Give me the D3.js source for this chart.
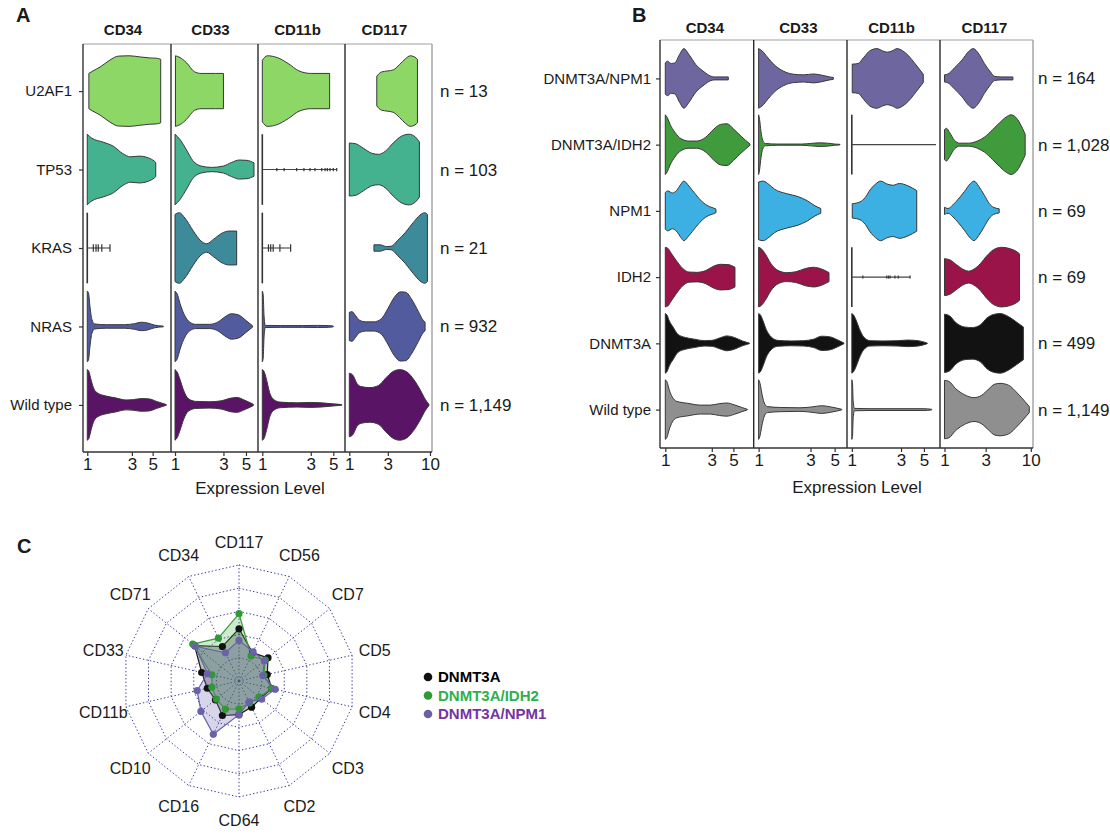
<!DOCTYPE html>
<html>
<head>
<meta charset="utf-8">
<script src="https://cdn.jsdelivr.net/npm/d3@7"></script>
<style>
  body { margin: 0; background: #fff; }
  svg text { font-family: "Liberation Sans", Arial, Helvetica, sans-serif; fill: #1a1a1a; }
</style>
</head>
<body>
<svg id="fig" width="1110" height="840"></svg>
<script>
// ---------- shared ----------
const markers = ["CD34", "CD33", "CD11b", "CD117"];
const xTicksStd = [1, 3, 5];
const xTicksKit = [1, 3, 10];

// Violin profiles: [expression level, relative half-width]; strips are
// near-constant markers drawn as a line with individual observations.

// ---------- panel A: genotypes ----------
const genotypesA = ["U2AF1", "TP53", "KRAS", "NRAS", "Wild type"];
const countsA = [13, 103, 21, 932, 1149];
const colorsA = ["#8dd766", "#45b28f", "#3d8a9b", "#525b9d", "#5a1466"];

const violinsA_U2AF1 = [
  [[1.04,0.5],[1.15,0.57],[1.37,0.68],[1.75,0.88],[2.15,0.99],[2.8,1.0],[3.6,0.97],[4.6,0.94],[5.5,0.93],[6.1,0.9]],
  [[1.01,1.0],[1.12,0.95],[1.3,0.8],[1.55,0.55],[1.8,0.5],[2.5,0.5],[3.0,0.5]],
  [[1.0,0.87],[1.12,1.0],[1.4,0.95],[1.8,0.78],[2.3,0.57],[3.0,0.5],[4.6,0.5]],
  [[2.19,0.42],[2.5,0.54],[3.0,0.57],[3.5,0.6],[4.2,0.75],[5.0,0.92],[5.7,1.0],[6.5,0.96],[7.0,0.9]]
];
const violinsA_TP53 = [
  [[1.0,1.0],[1.1,0.9],[1.5,0.77],[1.9,0.66],[2.4,0.45],[2.9,0.36],[3.6,0.38],[4.5,0.33],[5.2,0.24],[5.4,0.2]],
  [[1.0,1.0],[1.12,0.85],[1.3,0.55],[1.5,0.25],[1.8,0.1],[2.3,0.06],[3.0,0.1],[3.6,0.2],[4.3,0.27],[5.1,0.26],[6.0,0.19]],
  { strip: [1.39,1.64,2.18,2.57,2.95,3.3,3.85,4.15,4.37,4.64,5.0,5.4], tick: 1.6 },
  [[1.0,0.75],[1.2,0.73],[1.5,0.6],[1.9,0.46],[2.3,0.43],[2.8,0.52],[3.5,0.75],[4.4,0.94],[5.5,1.0],[6.6,0.92],[7.4,0.78]]
];
const violinsA_KRAS = [
  { strip: [1.16,1.24,1.31,1.43,1.75], tick: 3.7 },
  [[1.0,0.95],[1.1,1.0],[1.25,0.85],[1.5,0.5],[1.8,0.2],[2.05,0.12],[2.4,0.25],[2.9,0.42],[3.4,0.48],[4.05,0.48]],
  { strip: [1.15,1.21,1.28,1.49,1.9], tick: 3.7 },
  [[2.02,0.09],[2.4,0.09],[2.9,0.04],[3.3,0.05],[4.0,0.22],[5.0,0.45],[6.2,0.72],[7.5,0.93],[8.6,1.0],[9.3,0.95]]
];
const violinsA_NRAS = [
  [[1.0,1.0],[1.03,0.95],[1.07,0.55],[1.12,0.2],[1.2,0.07],[1.6,0.05],[2.5,0.05],[3.2,0.08],[3.8,0.12],[4.4,0.1],[5.2,0.04],[6.5,0.01]],
  [[1.0,1.0],[1.05,0.92],[1.12,0.65],[1.25,0.3],[1.4,0.12],[1.6,0.06],[2.2,0.06],[2.7,0.14],[3.1,0.27],[3.6,0.36],[4.2,0.33],[5.0,0.17],[5.8,0.02]],
  [[1.0,1.0],[1.02,0.9],[1.04,0.3],[1.07,0.03],[1.5,0.025],[2.5,0.025],[3.5,0.03],[4.5,0.025],[5.0,0.01]],
  [[1.0,0.4],[1.08,0.42],[1.2,0.3],[1.35,0.17],[1.6,0.13],[2.0,0.13],[2.5,0.22],[3.0,0.5],[3.6,0.82],[4.3,0.98],[5.0,0.97],[6.0,0.75],[7.2,0.42],[8.2,0.18],[8.7,0.12]]
];
const violinsA_WT = [
  [[1.0,1.0],[1.04,0.95],[1.1,0.7],[1.18,0.45],[1.3,0.33],[1.6,0.25],[2.0,0.2],[2.6,0.14],[3.1,0.15],[3.8,0.18],[4.6,0.17],[5.5,0.1],[7.0,0.01]],
  [[1.0,1.0],[1.05,0.93],[1.12,0.72],[1.22,0.4],[1.35,0.18],[1.6,0.1],[2.2,0.09],[2.9,0.12],[3.5,0.19],[4.1,0.21],[4.8,0.14],[5.9,0.02]],
  [[1.0,1.0],[1.04,0.95],[1.1,0.72],[1.18,0.35],[1.3,0.15],[1.5,0.08],[2.2,0.06],[3.0,0.07],[3.8,0.06],[5.0,0.03],[6.05,0.01]],
  [[1.0,0.9],[1.1,0.85],[1.25,0.6],[1.4,0.52],[1.8,0.49],[2.3,0.55],[2.8,0.75],[3.4,0.93],[4.2,1.0],[5.2,0.93],[6.3,0.72],[7.6,0.42],[8.8,0.15],[9.7,0.02]]
];

// ---------- panel B: DNMT3A co-mutations ----------
const genotypesB = ["DNMT3A/NPM1", "DNMT3A/IDH2", "NPM1", "IDH2", "DNMT3A", "Wild type"];
const countsB = [164, 1028, 69, 69, 499, 1149];
const colorsB = ["#6e679f", "#409b3d", "#3cb0e2", "#9b1449", "#121212", "#8f8f8f"];

const violinsB_NPM1co = [
  [[1.0,0.52],[1.05,0.58],[1.15,0.5],[1.25,0.52],[1.4,0.8],[1.55,1.0],[1.75,0.8],[2.05,0.47],[2.5,0.22],[2.9,0.08],[3.2,0.05],[4.0,0.05],[4.43,0.05]],
  [[1.0,1.0],[1.08,0.92],[1.2,0.72],[1.4,0.45],[1.7,0.24],[2.1,0.14],[2.6,0.12],[3.2,0.15],[3.9,0.1],[4.5,0.05],[4.87,0.03]],
  [[1.01,0.48],[1.15,0.5],[1.3,0.7],[1.5,0.93],[1.75,1.0],[2.0,0.92],[2.2,0.88],[2.45,0.92],[2.75,1.0],[3.1,0.93],[3.5,0.78],[4.2,0.45],[4.93,0.14]],
  [[1.0,0.12],[1.1,0.15],[1.3,0.35],[1.6,0.62],[1.9,0.9],[2.15,1.0],[2.5,0.82],[2.9,0.5],[3.4,0.22],[3.8,0.07],[4.5,0.05],[6.2,0.05]]
];
const violinsB_IDH2co = [
  [[1.0,1.0],[1.05,0.9],[1.12,0.68],[1.25,0.42],[1.45,0.2],[1.75,0.12],[2.1,0.12],[2.6,0.25],[3.1,0.5],[3.7,0.68],[4.3,0.7],[5.0,0.53],[6.0,0.28],[7.4,0.02]],
  [[1.0,1.0],[1.02,0.85],[1.05,0.45],[1.09,0.15],[1.15,0.04],[1.5,0.02],[2.5,0.02],[3.0,0.04],[3.6,0.06],[4.3,0.05],[5.0,0.02],[5.6,0.01]],
  { strip: [6.55], tick: 0 },
  [[1.0,0.5],[1.05,0.55],[1.15,0.4],[1.3,0.15],[1.5,0.05],[1.9,0.05],[2.4,0.12],[2.9,0.25],[3.6,0.5],[4.3,0.72],[5.2,0.93],[5.9,1.0],[7.0,0.85],[8.0,0.55],[8.6,0.35]]
];
const violinsB_NPM1 = [
  [[1.0,0.62],[1.06,0.67],[1.18,0.6],[1.3,0.68],[1.45,0.9],[1.55,1.0],[1.75,0.83],[2.05,0.55],[2.4,0.3],[2.8,0.15],[3.1,0.1],[3.31,0.06]],
  [[1.0,0.97],[1.1,1.0],[1.25,0.88],[1.4,0.73],[1.8,0.58],[2.3,0.48],[2.8,0.34],[3.3,0.17],[3.73,0.08]],
  [[1.01,0.24],[1.2,0.3],[1.35,0.45],[1.5,0.7],[1.7,0.9],[1.9,1.0],[2.2,0.9],[2.5,0.86],[2.9,0.92],[3.5,0.84],[4.26,0.68]],
  [[1.0,0.12],[1.1,0.08],[1.25,0.2],[1.45,0.4],[1.7,0.65],[2.0,0.92],[2.2,1.0],[2.5,0.82],[2.9,0.52],[3.3,0.25],[3.7,0.12],[4.3,0.07]]
];
const violinsB_IDH2 = [
  [[1.0,1.0],[1.06,0.97],[1.15,0.8],[1.3,0.55],[1.5,0.3],[1.75,0.17],[2.1,0.16],[2.6,0.22],[3.1,0.36],[3.7,0.43],[4.4,0.42],[5.19,0.33]],
  [[1.0,1.0],[1.06,0.95],[1.15,0.78],[1.3,0.45],[1.5,0.23],[1.8,0.15],[2.2,0.18],[2.7,0.29],[3.2,0.33],[3.8,0.27],[4.44,0.15]],
  { strip: [1.28,2.18,2.27,2.35,2.62,2.82,3.67], tick: 1.5 },
  [[1.0,0.62],[1.15,0.58],[1.4,0.4],[1.7,0.24],[1.9,0.2],[2.2,0.27],[2.6,0.45],[3.1,0.72],[3.7,0.92],[4.6,1.0],[5.8,0.95],[6.9,0.85],[7.4,0.78]]
];
const violinsB_DNMT3A = [
  [[1.0,1.0],[1.04,0.95],[1.1,0.75],[1.2,0.55],[1.35,0.3],[1.6,0.2],[2.0,0.14],[2.5,0.09],[3.0,0.1],[3.6,0.18],[4.3,0.25],[5.1,0.2],[6.2,0.08],[7.3,0.01]],
  [[1.0,1.0],[1.04,0.95],[1.1,0.75],[1.18,0.45],[1.3,0.22],[1.5,0.1],[2.0,0.08],[2.6,0.09],[3.2,0.14],[3.8,0.24],[4.5,0.22],[5.3,0.12],[6.1,0.01]],
  [[1.0,1.0],[1.04,0.95],[1.1,0.78],[1.18,0.5],[1.3,0.22],[1.5,0.09],[2.0,0.08],[2.8,0.09],[3.5,0.11],[4.4,0.09],[5.39,0.01]],
  [[1.0,0.98],[1.15,0.92],[1.35,0.7],[1.7,0.55],[2.1,0.53],[2.6,0.62],[3.1,0.85],[3.7,0.97],[4.4,1.0],[5.5,0.9],[6.8,0.72],[8.2,0.55]]
];
const violinsB_WT = [
  [[1.0,1.0],[1.04,0.93],[1.1,0.65],[1.18,0.42],[1.3,0.28],[1.7,0.21],[2.3,0.15],[2.9,0.15],[3.6,0.2],[4.3,0.22],[5.1,0.16],[6.1,0.07],[6.95,0.01]],
  [[1.0,1.0],[1.03,0.88],[1.07,0.55],[1.12,0.25],[1.2,0.1],[1.6,0.07],[2.4,0.06],[3.1,0.09],[3.8,0.13],[4.6,0.09],[5.81,0.01]],
  [[1.0,1.0],[1.015,0.9],[1.03,0.3],[1.06,0.04],[1.5,0.03],[3.0,0.03],[5.0,0.03],[5.95,0.01]],
  [[1.0,0.98],[1.12,0.95],[1.35,0.7],[1.7,0.5],[2.2,0.4],[2.7,0.48],[3.2,0.67],[3.8,0.85],[4.4,0.88],[5.5,0.82],[7.0,0.55],[8.5,0.28],[9.6,0.1]]
];

// ---------- panel C: radar ----------
const radarAxes = ["CD117","CD56","CD7","CD5","CD4","CD3","CD2","CD64","CD16","CD10","CD11b","CD33","CD71","CD34"];
const radarDNMT3A = [0.45, 0.27, 0.32, 0.25, 0.29, 0.24, 0.25, 0.29, 0.33, 0.26, 0.28, 0.33, 0.49, 0.33];
const radarIDH2co = [0.58, 0.24, 0.29, 0.22, 0.29, 0.22, 0.21, 0.24, 0.27, 0.25, 0.24, 0.24, 0.51, 0.41];
const radarNPM1co = [0.35, 0.28, 0.28, 0.21, 0.32, 0.25, 0.20, 0.29, 0.51, 0.42, 0.37, 0.28, 0.48, 0.27];
const radarGroups = ["DNMT3A", "DNMT3A/IDH2", "DNMT3A/NPM1"];
const radarRings = [0.2, 0.4, 0.6, 0.8, 1.0];

// ---------- drawing ----------
const svg = d3.select("#fig");
const fmtN = d3.format(",");
const FONT = "Liberation Sans, Arial, Helvetica, sans-serif";

function violinPanel(spec) {
  const g = svg.append("g");
  const y = d3.scalePoint().domain(spec.rows).range([spec.top, spec.bottom]).padding(spec.pad);
  const halfH = y.step() * 0.45;

  spec.markers.forEach((m, j) => {
    const x = d3.scaleLog().domain(spec.limits[j]).range([spec.cols[j], spec.cols[j + 1]]);

    g.append("text")
      .attr("x", (spec.cols[j] + spec.cols[j + 1]) / 2 + spec.headerShift)
      .attr("y", spec.headerY)
      .attr("text-anchor", "middle")
      .attr("font-weight", "bold")
      .attr("font-size", 15)
      .text(m);

    spec.rows.forEach((r, i) => {
      const prof = spec.profiles[i][j];
      const cy = y(r);
      if (Array.isArray(prof)) {
        const area = d3.area()
          .x(d => x(d[0]))
          .y0(d => cy - d[1] * halfH)
          .y1(d => cy + d[1] * halfH)
          .curve(d3.curveMonotoneX);
        g.append("path")
          .attr("d", area(prof))
          .attr("fill", spec.colors[i])
          .attr("stroke", "#383838")
          .attr("stroke-width", 1)
          .attr("stroke-linejoin", "round");
      } else {
        const end = d3.max(prof.strip);
        g.append("line")
          .attr("x1", x(1)).attr("x2", x(1))
          .attr("y1", cy - halfH).attr("y2", cy + halfH)
          .attr("stroke", "#333").attr("stroke-width", 1.6);
        g.append("line")
          .attr("x1", x(1)).attr("x2", x(end))
          .attr("y1", cy).attr("y2", cy)
          .attr("stroke", "#444").attr("stroke-width", 1.1);
        if (prof.tick > 0) {
          g.selectAll(null).data(prof.strip).join("line")
            .attr("x1", d => x(d)).attr("x2", d => x(d))
            .attr("y1", cy - prof.tick).attr("y2", cy + prof.tick)
            .attr("stroke", "#333").attr("stroke-width", 1.2);
        }
      }
    });

    const ax = d3.axisBottom(x)
      .tickValues(j === 3 ? xTicksKit : xTicksStd)
      .tickFormat(d3.format("d"))
      .tickSize(4)
      .tickPadding(2);
    const axg = g.append("g")
      .attr("transform", `translate(0,${spec.bottom})`)
      .call(ax)
      .attr("font-family", FONT)
      .attr("font-size", 17);
    axg.select(".domain").remove();
    axg.selectAll(".tick line").attr("stroke", "#333").attr("stroke-width", 1.2);
    axg.selectAll(".tick text").attr("fill", "#1a1a1a");
  });

  // frame: light top/right, dark axes and facet dividers
  g.append("line").attr("x1", spec.left).attr("x2", spec.right)
    .attr("y1", spec.top).attr("y2", spec.top)
    .attr("stroke", "#a0a0a0").attr("stroke-width", 1.2);
  g.append("line").attr("x1", spec.right).attr("x2", spec.right)
    .attr("y1", spec.top).attr("y2", spec.bottom)
    .attr("stroke", "#a0a0a0").attr("stroke-width", 1.4);
  spec.cols.slice(1, -1).forEach(cx => {
    g.append("line").attr("x1", cx).attr("x2", cx)
      .attr("y1", spec.top).attr("y2", spec.bottom)
      .attr("stroke", "#2a2a2a").attr("stroke-width", 1.4);
  });
  g.append("line").attr("x1", spec.left).attr("x2", spec.left)
    .attr("y1", spec.top).attr("y2", spec.bottom)
    .attr("stroke", "#333").attr("stroke-width", 1.4);
  g.append("line").attr("x1", spec.left).attr("x2", spec.right)
    .attr("y1", spec.bottom).attr("y2", spec.bottom)
    .attr("stroke", "#333").attr("stroke-width", 1.4);

  // row axis
  const yax = d3.axisLeft(y).tickSize(4).tickPadding(spec.labelPad);
  const yg = g.append("g")
    .attr("transform", `translate(${spec.left},0)`)
    .call(yax)
    .attr("font-family", FONT)
    .attr("font-size", 15);
  yg.select(".domain").remove();
  yg.selectAll(".tick line").attr("stroke", "#333").attr("stroke-width", 1.2);
  yg.selectAll(".tick text").attr("fill", "#1a1a1a");

  // group sizes
  spec.rows.forEach((r, i) => {
    g.append("text")
      .attr("x", spec.nX)
      .attr("y", y(r) + 6)
      .attr("font-size", 17)
      .text("n = " + fmtN(spec.counts[i]));
  });

  g.append("text")
    .attr("x", spec.titleX).attr("y", spec.titleY)
    .attr("text-anchor", "middle")
    .attr("font-size", 17)
    .text("Expression Level");

  g.append("text")
    .attr("x", spec.tagX).attr("y", spec.tagY)
    .attr("font-weight", "bold")
    .attr("font-size", 20)
    .text(spec.tag);
}

violinPanel({
  tag: "A", tagX: 16, tagY: 22,
  rows: genotypesA, counts: countsA, colors: colorsA, markers,
  profiles: [violinsA_U2AF1, violinsA_TP53, violinsA_KRAS, violinsA_NRAS, violinsA_WT],
  left: 83, right: 432, top: 44, bottom: 452, pad: 0.6,
  cols: [83, 171, 258, 345, 432],
  limits: [[0.9, 7.86], [0.913, 6.57], [0.907, 6.52], [0.884, 10.6]],
  headerY: 35, headerShift: -4,
  labelPad: 7, nX: 440,
  titleX: 260, titleY: 494
});

violinPanel({
  tag: "B", tagX: 632, tagY: 22,
  rows: genotypesB, counts: countsB, colors: colorsB, markers,
  profiles: [violinsB_NPM1co, violinsB_IDH2co, violinsB_NPM1, violinsB_IDH2, violinsB_DNMT3A, violinsB_WT],
  left: 660, right: 1033, top: 40, bottom: 448, pad: 0.58,
  cols: [660, 753.7, 847, 940, 1033],
  limits: [[0.882, 8.08], [0.901, 6.5], [0.898, 7.16], [0.887, 10.6]],
  headerY: 33, headerShift: -2,
  labelPad: 5, nX: 1038,
  titleX: 857, titleY: 493
});

// ---------- radar ----------
(function radar() {
  const cx = 239, cy = 681, R = 116;
  const g = svg.append("g").attr("transform", `translate(${cx},${cy})`);
  const r = d3.scaleLinear().domain([0, 1]).range([0, R]);
  const n = radarAxes.length;
  const ang = i => i * 2 * Math.PI / n;
  const poly = d3.lineRadial()
    .angle((d, i) => ang(i))
    .radius(d => r(d))
    .curve(d3.curveLinearClosed);
  const gridColor = "#3c3c98";

  radarRings.forEach(v => {
    g.append("path")
      .attr("d", poly(radarAxes.map(() => v)))
      .attr("fill", "none")
      .attr("stroke", gridColor)
      .attr("stroke-width", 1)
      .attr("stroke-dasharray", "1.4,2.2");
  });
  radarAxes.forEach((a, i) => {
    g.append("line")
      .attr("x1", 0).attr("y1", 0)
      .attr("x2", Math.sin(ang(i)) * r(1))
      .attr("y2", -Math.cos(ang(i)) * r(1))
      .attr("stroke", gridColor)
      .attr("stroke-width", 1)
      .attr("stroke-dasharray", "1.4,2.2");
  });

  const series = [
    { name: radarGroups[0], values: radarDNMT3A, stroke: "#1c1c1c", fill: "rgba(45,45,45,0.33)", dot: "#111" },
    { name: radarGroups[1], values: radarIDH2co, stroke: "#3b9a3b", fill: "rgba(60,170,60,0.25)", dot: "#2f9a35" },
    { name: radarGroups[2], values: radarNPM1co, stroke: "#6a62a8", fill: "rgba(110,100,180,0.27)", dot: "#6a62a8" }
  ];
  series.forEach(s => {
    g.append("path")
      .attr("d", poly(s.values))
      .attr("fill", s.fill)
      .attr("stroke", s.stroke)
      .attr("stroke-width", 1.2);
  });
  series.forEach(s => {
    g.selectAll(null).data(s.values).join("circle")
      .attr("cx", (d, i) => Math.sin(ang(i)) * r(d))
      .attr("cy", (d, i) => -Math.cos(ang(i)) * r(d))
      .attr("r", 3.6)
      .attr("fill", s.dot);
  });

  radarAxes.forEach((a, i) => {
    g.append("text")
      .attr("x", Math.sin(ang(i)) * r(1.2))
      .attr("y", -Math.cos(ang(i)) * r(1.2))
      .attr("dy", "0.36em")
      .attr("text-anchor", "middle")
      .attr("font-size", 16)
      .text(a);
  });

  // legend
  const legendText = ["#000000", "#2fb04c", "#7434a2"];
  const lg = svg.append("g").attr("transform", "translate(428,677)");
  series.forEach((s, i) => {
    lg.append("circle").attr("cx", 0).attr("cy", i * 18.5).attr("r", 4.3).attr("fill", s.dot);
    lg.append("text")
      .attr("x", 10).attr("y", i * 18.5)
      .attr("dy", "0.36em")
      .attr("font-size", 15)
      .attr("font-weight", "bold")
      .style("fill", legendText[i])
      .text(s.name);
  });

  svg.append("text")
    .attr("x", 17).attr("y", 553)
    .attr("font-weight", "bold")
    .attr("font-size", 20)
    .text("C");
})();
</script>
</body>
</html>
